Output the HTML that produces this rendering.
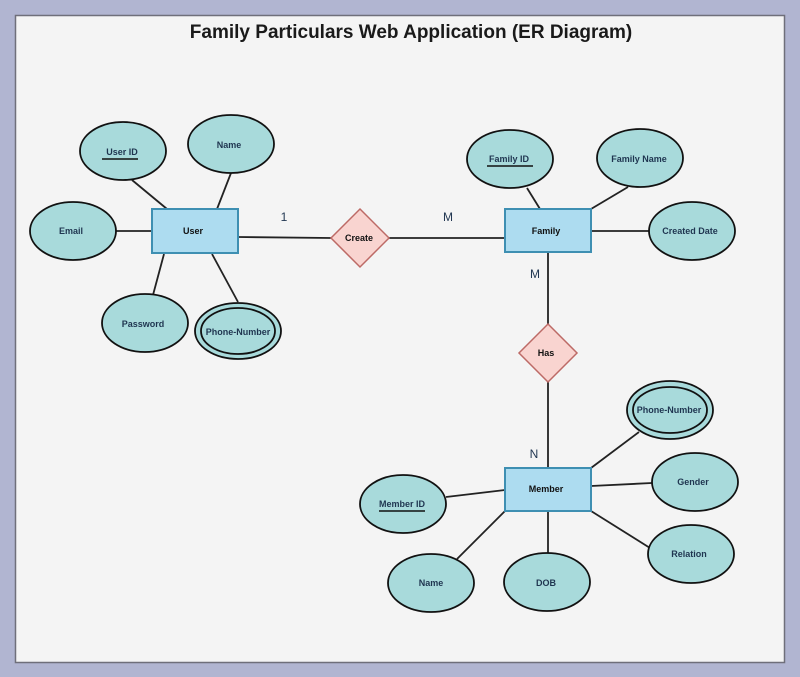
<!DOCTYPE html>
<html><head><meta charset="utf-8"><style>
html,body{margin:0;padding:0;width:800px;height:677px;overflow:hidden;background:#b1b5d1}
svg{display:block}
text{font-family:"Liberation Sans",Arial,sans-serif}
</style></head><body>
<svg width="800" height="677" viewBox="0 0 800 677" xmlns="http://www.w3.org/2000/svg">
<rect x="0" y="0" width="800" height="677" fill="#b1b5d1"/>
<rect x="15.5" y="15.5" width="769" height="647" fill="#f4f4f4" stroke="#6f6f7a" stroke-width="1.5"/>
<text x="411" y="38" font-size="19" font-weight="bold" text-anchor="middle" fill="#1a1a1a">Family Particulars Web Application (ER Diagram)</text>
<g stroke="#222" stroke-width="1.8" fill="none">
<line x1="238" y1="237" x2="331" y2="238"/>
<line x1="389" y1="238" x2="505" y2="238"/>
<line x1="548" y1="252" x2="548" y2="324"/>
<line x1="548" y1="382" x2="548" y2="468"/>
<line x1="132" y1="180" x2="167" y2="209"/>
<line x1="231" y1="173" x2="217" y2="209"/>
<line x1="113" y1="231" x2="152" y2="231"/>
<line x1="164" y1="254" x2="153" y2="295"/>
<line x1="212" y1="254" x2="238" y2="302"/>
<line x1="527" y1="188" x2="540" y2="209"/>
<line x1="628" y1="187" x2="591" y2="209"/>
<line x1="591" y1="231" x2="649" y2="231"/>
<line x1="591" y1="468" x2="639" y2="432"/>
<line x1="591" y1="486" x2="652" y2="483"/>
<line x1="591" y1="511" x2="650" y2="548"/>
<line x1="446" y1="497" x2="505" y2="490"/>
<line x1="457" y1="559" x2="505" y2="511"/>
<line x1="548" y1="511" x2="548" y2="554"/>
</g>
<g fill="#a8dadb" stroke="#111" stroke-width="1.8">
<ellipse cx="123" cy="151" rx="43" ry="29"/>
<ellipse cx="231" cy="144" rx="43" ry="29"/>
<ellipse cx="73" cy="231" rx="43" ry="29"/>
<ellipse cx="145" cy="323" rx="43" ry="29"/>
<ellipse cx="238" cy="331" rx="43" ry="28"/>
<ellipse cx="238" cy="331" rx="37" ry="23"/>
<ellipse cx="510" cy="159" rx="43" ry="29"/>
<ellipse cx="640" cy="158" rx="43" ry="29"/>
<ellipse cx="692" cy="231" rx="43" ry="29"/>
<ellipse cx="670" cy="410" rx="43" ry="29"/>
<ellipse cx="670" cy="410" rx="37" ry="23"/>
<ellipse cx="695" cy="482" rx="43" ry="29"/>
<ellipse cx="403" cy="504" rx="43" ry="29"/>
<ellipse cx="431" cy="583" rx="43" ry="29"/>
<ellipse cx="547" cy="582" rx="43" ry="29"/>
<ellipse cx="691" cy="554" rx="43" ry="29"/>
</g>
<g fill="#addcf0" stroke="#3e8fb2" stroke-width="2">
<rect x="152" y="209" width="86" height="44"/>
<rect x="505" y="209" width="86" height="43"/>
<rect x="505" y="468" width="86" height="43"/>
</g>
<g fill="#f9d4d0" stroke="#bd6a66" stroke-width="1.5">
<polygon points="360,209 389,238 360,267 331,238"/>
<polygon points="548,324 577,353 548,382 519,353"/>
</g>
<g font-size="9" font-weight="bold" text-anchor="middle" fill="#1f3550">
<text x="122" y="155">User ID</text>
<text x="229" y="148">Name</text>
<text x="71" y="234">Email</text>
<text x="143" y="327">Password</text>
<text x="238" y="335">Phone-Number</text>
<text x="509" y="162">Family ID</text>
<text x="639" y="162">Family  Name</text>
<text x="690" y="234">Created  Date</text>
<text x="669" y="413">Phone-Number</text>
<text x="693" y="485">Gender</text>
<text x="402" y="507">Member ID</text>
<text x="431" y="586">Name</text>
<text x="546" y="586">DOB</text>
<text x="689" y="557">Relation</text>
</g>
<g font-size="9" font-weight="bold" text-anchor="middle" fill="#111">
<text x="193" y="234">User</text>
<text x="546" y="234">Family</text>
<text x="546" y="492">Member</text>
<text x="359" y="241">Create</text>
<text x="546" y="356">Has</text>
</g>
<g stroke="#111" stroke-width="1.5">
<line x1="102" y1="159" x2="138" y2="159"/>
<line x1="487" y1="166" x2="533" y2="166"/>
<line x1="379" y1="511" x2="425" y2="511"/>
</g>
<g font-size="12" fill="#1f3550" text-anchor="middle">
<text x="284" y="221">1</text>
<text x="448" y="221">M</text>
<text x="535" y="278">M</text>
<text x="534" y="458">N</text>
</g>
</svg>
</body></html>
